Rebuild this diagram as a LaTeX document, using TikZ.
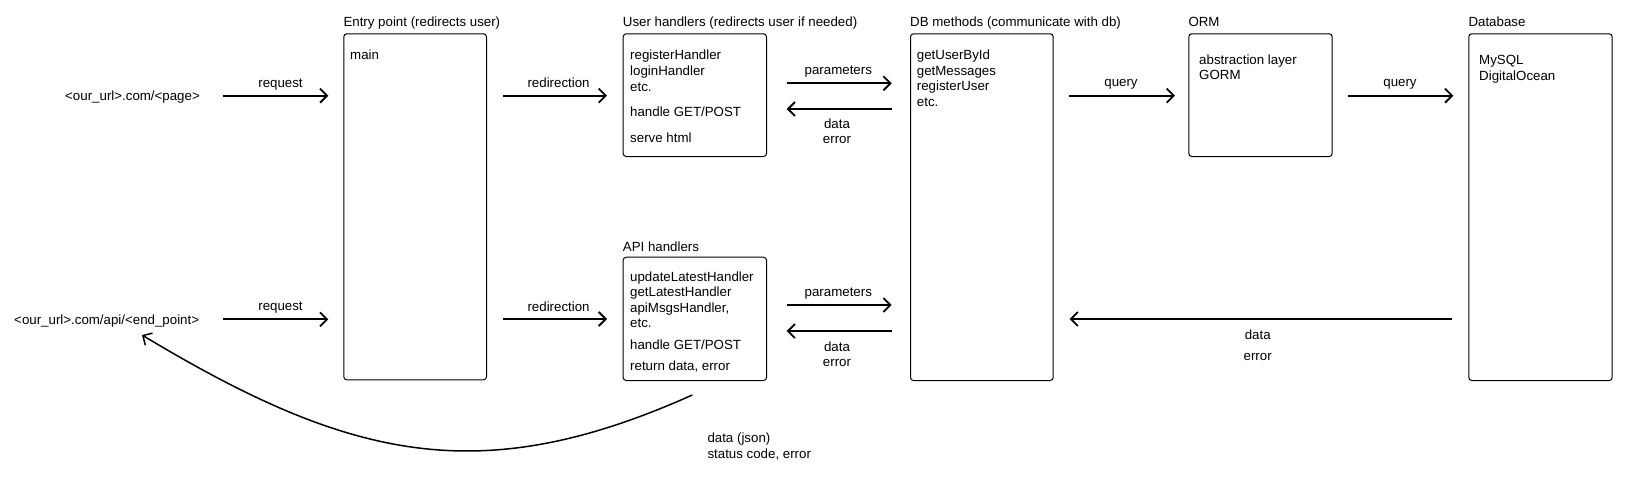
\documentclass[tikz,border=0pt]{standalone}
\usepackage{fontspec}
\setmainfont{Liberation Sans}
\usetikzlibrary{positioning,arrows.meta}

\begin{document}
\begin{tikzpicture}[x=1pt,y=-1pt]
\useasboundingbox (0,0) rectangle (1652,488);

% definitions
\tikzstyle{box} = [rectangle, rounded corners=3pt, draw=black, line width=1pt, inner sep=0pt, anchor=north west]
\tikzstyle{boxtitle} = [anchor=mid west, inner sep=0pt, font=\fontsize{13.3}{15.6}\selectfont]
\tikzstyle{content} = [anchor=north west, align=left, inner sep=0pt, font=\fontsize{13.3}{15.6}\selectfont]
\tikzstyle{lbl} = [anchor=mid, inner sep=0pt, font=\fontsize{13.3}{15.6}\selectfont]
\tikzstyle{lbls} = [anchor=north, align=center, inner sep=0pt, font=\fontsize{13.3}{15.6}\selectfont]
\tikzstyle{arrow} = [line width=1.8pt, -{Straight Barb[length=7pt,width=14pt]}]

% urls
\node (page) [lbl, anchor=mid east] at (200,97.5) {<our\_url>.com/<page>};
\node (api) [lbl, anchor=mid east] at (199.3,321.5) {<our\_url>.com/api/<end\_point>};

% the boxes
\node (entry) [box, minimum width=142.7pt, minimum height=346pt] at (343.3,33.3) {};
\node (user) [box, minimum width=143.3pt, minimum height=122.7pt] at (622.7,33.3) {};
\node (apih) [box, minimum width=143.3pt, minimum height=123.3pt] at (622.7,256.7) {};
\node (db) [box, minimum width=142.7pt, minimum height=346.7pt] at (910,33.3) {};
\node (orm) [box, minimum width=143.4pt, minimum height=122.7pt] at (1188.3,33.3) {};
\node (base) [box, minimum width=143.4pt, minimum height=346.7pt] at (1468.3,33.3) {};

% titles
\node (entryt) [boxtitle] at ([yshift=9pt]entry.north west) {Entry point (redirects user)};
\node (usert) [boxtitle] at ([yshift=9pt]user.north west) {User handlers (redirects user if needed)};
\node (apiht) [boxtitle] at ([yshift=8pt]apih.north west) {API handlers};
\node (dbt) [boxtitle] at ([yshift=9pt]db.north west) {DB methods (communicate with db)};
\node (ormt) [boxtitle] at ([yshift=9pt]orm.north west) {ORM};
\node (baset) [boxtitle] at ([yshift=9pt]base.north west) {Database};

% box contents
\node (entryc) [content] at ([xshift=6.7pt, yshift=-16.5pt]entry.north west) {main};
\node (userc) [content] at ([xshift=7.3pt, yshift=-16.7pt]user.north west)
  {registerHandler\\loginHandler\\etc.\\[9.5pt]handle GET/POST\\[11pt]serve html};
\node (apihc) [content] at ([xshift=7.3pt, yshift=-14.5pt]apih.north west)
  {updateLatestHandler\\getLatestHandler\\apiMsgsHandler,\\etc.\\[6pt]handle GET/POST\\[5.5pt]return data, error};
\node (dbc) [content] at ([xshift=6.7pt, yshift=-16.5pt]db.north west)
  {getUserById\\getMessages\\registerUser\\etc.};
\node (ormc) [content] at ([xshift=10.7pt, yshift=-21pt]orm.north west) {abstraction layer\\GORM};
\node (basec) [content] at ([xshift=10.7pt, yshift=-22pt]base.north west) {MySQL\\DigitalOcean};

% arrow ends
\coordinate (req1a) at (222.7,95.7);
\coordinate (req1b) at (328.3,95.7);
\coordinate (req2a) at (222.7,319.3);
\coordinate (req2b) at (328.3,319.3);
\coordinate (red1a) at (503,95.7);
\coordinate (red1b) at (607,95.7);
\coordinate (red2a) at (503,319);
\coordinate (red2b) at (607,319);
\coordinate (par1a) at (786.7,83.3);
\coordinate (par1b) at (891.7,83.3);
\coordinate (dat1a) at (891.7,109);
\coordinate (dat1b) at (786.7,109);
\coordinate (par2a) at (786.7,305);
\coordinate (par2b) at (891.7,305);
\coordinate (dat2a) at (891.7,331);
\coordinate (dat2b) at (786.7,331);
\coordinate (qry1a) at (1069.3,95.7);
\coordinate (qry1b) at (1175,95.7);
\coordinate (qry2a) at (1347.7,95.7);
\coordinate (qry2b) at (1453.3,95.7);
\coordinate (backa) at (1452.3,319);
\coordinate (backb) at (1069.5,319);
\coordinate (jsona) at (692.3,395);
\coordinate (jsonb) at (142,335);

% arrows
\draw [arrow] (req1a) -- (req1b);
\draw [arrow] (req2a) -- (req2b);
\draw [arrow] (red1a) -- (red1b);
\draw [arrow] (red2a) -- (red2b);
\draw [arrow] (par1a) -- (par1b);
\draw [arrow] (dat1a) -- (dat1b);
\draw [arrow] (par2a) -- (par2b);
\draw [arrow] (dat2a) -- (dat2b);
\draw [arrow] (qry1a) -- (qry1b);
\draw [arrow] (qry2a) -- (qry2b);
\draw [arrow] (backa) -- (backb);
\draw [arrow, line width=1.5pt] (jsona) .. controls (480,490) and (350,460) .. (jsonb);

% arrow labels
\node (req1l) [lbl] at (280.5,84.7) {request};
\node (req2l) [lbl] at (280.5,308) {request};
\node (red1l) [lbl] at (558.6,85) {redirection};
\node (red2l) [lbl] at (558.6,309) {redirection};
\node (par1l) [lbl] at (838.3,72) {parameters};
\node (par2l) [lbl] at (838.3,293.7) {parameters};
\node (dat1l) [lbls] at (837,118.5) {data\\error};
\node (dat2l) [lbls] at (837,341.2) {data\\error};
\node (qry1l) [lbl] at (1121,83.5) {query};
\node (qry2l) [lbl] at (1400,83.5) {query};
\node (backl) [lbls] at (1257.7,329.7) {data\\[5.4pt]error};
\node (jsonl) [content] at (707.3,432.8) {data (json)\\status code, error};

\end{tikzpicture}
\end{document}
